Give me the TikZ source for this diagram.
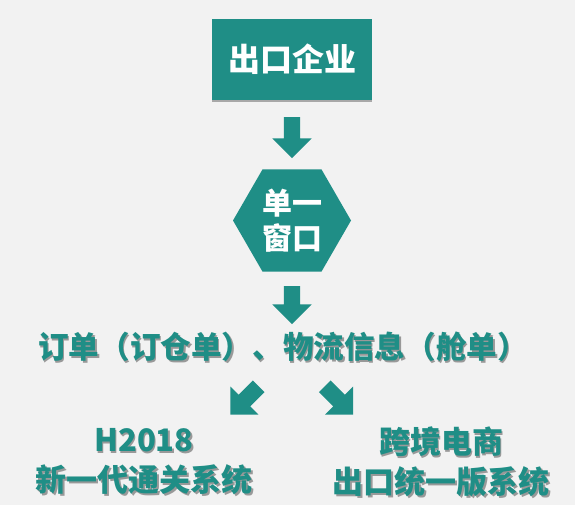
\documentclass[tikz,border=0pt]{standalone}
\usepackage{fontspec}
\newfontfamily\cjk{Noto Sans CJK SC Black}
\usetikzlibrary{shapes.geometric,shapes.arrows,shadows}
\definecolor{teal1}{RGB}{31,142,134}
\definecolor{bg}{RGB}{242,242,242}
\begin{document}
\begin{tikzpicture}[x=1pt,y=-1pt,
  lbl/.style={font=\cjk\fontsize{30.6}{35}\selectfont, text=teal1, align=center, inner sep=0pt},
  lblbig/.style={lbl, font=\cjk\fontsize{31}{40}\selectfont},
  shd/.style={text=black!40, xshift=1.5pt, yshift=-1.5pt},
  blockarr/.style={single arrow, fill=teal1, draw=none, minimum height=41pt, inner sep=8pt,
    single arrow head extend=11.5pt, single arrow tip angle=90, single arrow head indent=0pt},
]
\fill[bg] (0,0) rectangle (575,505);
\useasboundingbox (0,0) rectangle (575,505);

% top box
\node[fill=teal1, minimum width=160pt, minimum height=81pt, inner sep=0pt,
  drop shadow={shadow xshift=0pt, shadow yshift=-2pt, fill=black, opacity=0.3},
  text=white, font=\cjk\fontsize{32}{36}\selectfont] (top) at (292,59.5) {出口企业};

% arrow 1
\node[blockarr, rotate=-90] (a1) at (292,133.5) {};

% hexagon
\node[regular polygon, regular polygon sides=6, minimum size=118pt, inner sep=0pt,
  fill=teal1, text=white, align=center, font=\cjk\fontsize{30}{35}\selectfont] (win) at (292,220.5) {单一\\窗口};

% arrow 2
\node[blockarr, rotate=-90, minimum height=38pt] (a2) at (292,301) {};

% info text
\node[lbl, shd] (info-s) at (283,347) {订单（订仓单）、物流信息（舱单）};
\node[lbl] (info) at (283,347) {订单（订仓单）、物流信息（舱单）};

% diagonal arrows
\node[blockarr, rotate=-135, minimum height=40pt] (a3) at (247.5,397.5) {};
\node[blockarr, rotate=-45, minimum height=40pt] (a4) at (336,397.5) {};

% bottom texts
\node[lblbig, shd] (h-s) at (144,462) {H2018\\新一代通关系统};
\node[lblbig] (h) at (144,462) {H2018\\新一代通关系统};
\node[lblbig, shd] (k-s) at (441,462) {跨境电商\\出口统一版系统};
\node[lblbig] (k) at (441,462) {跨境电商\\出口统一版系统};
\end{tikzpicture}
\end{document}
